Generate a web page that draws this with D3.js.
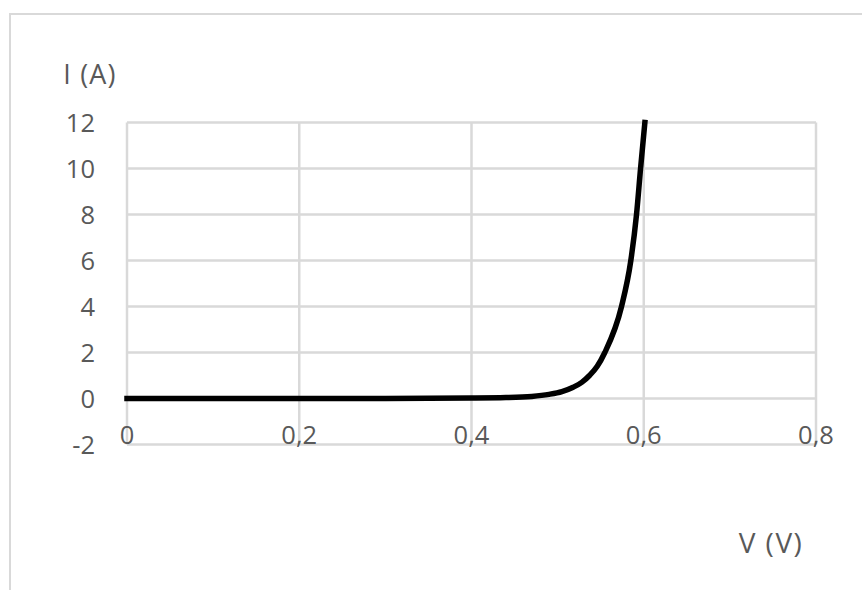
<!DOCTYPE html>
<html><head><meta charset="utf-8">
<script src="https://cdn.jsdelivr.net/npm/d3@7"></script>
<style>body{margin:0;background:#fff}svg{display:block}text{font-family:"Open Sans",sans-serif;fill:#595959}</style>
</head><body>
<svg id="c" width="862" height="590"></svg>
<script>
// Data
const voltage = [0, 0.1, 0.2, 0.3, 0.4, 0.44, 0.47, 0.49, 0.505, 0.518, 0.528, 0.537, 0.546, 0.5548, 0.5742, 0.585, 0.5916, 0.5963, 0.6013];
const current = [0, 0, 0, 0.005, 0.02, 0.04, 0.09, 0.18, 0.3, 0.49, 0.7, 1.0, 1.4, 2.0, 4.0, 6.0, 8.0, 10.0, 12.0];
const xTicks = [0, 0.2, 0.4, 0.6, 0.8];
const yTicks = [-2, 0, 2, 4, 6, 8, 10, 12];
const xTitle = "V (V)";
const yTitle = "I (A)";

const svg = d3.select("#c");
const x = d3.scaleLinear().domain([0, 0.8]).range([127, 816]);
const y = d3.scaleLinear().domain([-2, 12]).range([444.5, 122.5]);
const fmt = v => String(v).replace(".", ",");

// outer frame
svg.append("rect").attr("x", 10).attr("y", 14).attr("width", 900).attr("height", 700)
  .attr("fill", "none").attr("stroke", "#d9d9d9").attr("stroke-width", 2);

// gridlines
svg.append("g").selectAll("line").data(yTicks).join("line")
  .attr("x1", x(0)).attr("x2", x(0.8)).attr("y1", d => y(d)).attr("y2", d => y(d))
  .attr("stroke", "#d9d9d9").attr("stroke-width", 2.5);
svg.append("g").selectAll("line").data(xTicks).join("line")
  .attr("x1", d => x(d)).attr("x2", d => x(d)).attr("y1", y(-2)).attr("y2", y(12))
  .attr("stroke", "#d9d9d9").attr("stroke-width", 2.5);

// y tick labels
svg.append("g").selectAll("text").data(yTicks).join("text")
  .attr("x", 95).attr("y", d => y(d)).attr("dy", "0.36em")
  .attr("text-anchor", "end").attr("font-size", 25.5).text(d => d);

// x tick labels
svg.append("g").selectAll("text").data(xTicks).join("text")
  .attr("x", d => x(d)).attr("y", 444)
  .attr("text-anchor", "middle").attr("font-size", 25.5).text(fmt);

// axis titles
svg.append("text").attr("x", 90).attr("y", 84).attr("text-anchor", "middle")
  .attr("font-size", 27).attr("letter-spacing", 1.2).text(yTitle);
svg.append("text").attr("x", 771).attr("y", 553).attr("text-anchor", "middle")
  .attr("font-size", 28).attr("letter-spacing", 1.5).text(xTitle);

// curve
const pts = voltage.map((v, i) => [v, current[i]]);
const line = d3.line().x(d => x(d[0])).y(d => y(d[1])).curve(d3.curveMonotoneX);
svg.append("path").attr("d", line(pts)).attr("fill", "none")
  .attr("stroke", "#000").attr("stroke-width", 5.5).attr("stroke-linejoin", "round")
  .attr("stroke-linecap", "square");
</script>
</body></html>
